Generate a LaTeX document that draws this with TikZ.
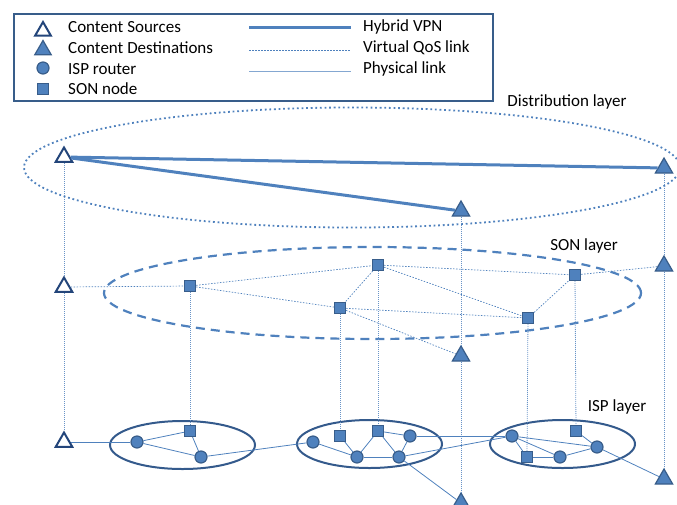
\documentclass[tikz,border=0pt]{standalone}
\usepackage{fontspec}
\setmainfont{Carlito}
\usetikzlibrary{shapes.geometric}
\definecolor{fillblue}{HTML}{4F81BD}
\definecolor{edgeblue}{HTML}{385D8A}
\definecolor{navy}{HTML}{23457A}
\definecolor{lineblue}{HTML}{4F81BD}
\definecolor{ellblue}{HTML}{345A8C}
\tikzset{
  srcnode/.style={regular polygon, regular polygon sides=3, draw=navy, line width=2pt, fill=white, minimum size=19pt, inner sep=0pt},
  dstnode/.style={regular polygon, regular polygon sides=3, draw=edgeblue, line width=1.2pt, fill=fillblue, minimum size=20pt, inner sep=0pt},
  router/.style={circle, draw=edgeblue, line width=1.2pt, fill=fillblue, minimum size=12pt, inner sep=0pt},
  sonnode/.style={rectangle, draw=edgeblue, line width=1.2pt, fill=fillblue, minimum size=11pt, inner sep=0pt},
  vpn/.style={line width=3pt, draw=lineblue},
  qos/.style={line width=0.7pt, draw=lineblue, dash pattern=on 1.5pt off 1.5pt},
  phys/.style={line width=0.8pt, draw=lineblue},
  vert/.style={line width=0.8pt, draw=lineblue!85, dash pattern=on 1pt off 1pt},
  lbl/.style={font=\fontsize{17}{20}\selectfont, inner sep=0pt},
  ispell/.style={line width=2pt, draw=ellblue},
}
\begin{document}
\begin{tikzpicture}[x=1pt,y=-1pt]
\useasboundingbox (0,0) rectangle (677,504);
% legend
\node[draw=edgeblue, line width=1.5pt, minimum width=479pt, minimum height=87pt, anchor=north west, inner sep=0pt] (legend) at (13,13) {};
\node[srcnode, minimum size=18pt] (lsrc) at (43,31) {};
\node[dstnode, minimum size=19pt] (ldst) at (43,50) {};
\node[router] (lrouter) at (43,68) {};
\node[sonnode] (lson) at (43,89) {};
\node[lbl, anchor=west] (tsrc) at (68,27) {Content Sources};
\node[lbl, anchor=west] (tdst) at (68,48) {Content Destinations};
\node[lbl, anchor=west] (trouter) at (68,69) {ISP router};
\node[lbl, anchor=west] (tson) at (68,89) {SON node};
\coordinate (lv1) at (249,27); \coordinate (lv2) at (351,27);
\coordinate (lq1) at (249,50); \coordinate (lq2) at (351,50);
\coordinate (lp1) at (249,71); \coordinate (lp2) at (351,71);
\draw[vpn] (lv1) -- (lv2);
\draw[qos] (lq1) -- (lq2);
\draw[phys, draw=lineblue!70] (lp1) -- (lp2);
\node[lbl, anchor=west] (tvpn) at (363,27) {Hybrid VPN};
\node[lbl, anchor=west] (tqos) at (363,48) {Virtual QoS link};
\node[lbl, anchor=west] (tphys) at (363,69) {Physical link};
% layer labels
\node[lbl] (ldist) at (567,102) {Distribution layer};
\node[lbl] (lsonl) at (584,246) {SON layer};
\node[lbl] (lisp) at (617,407) {ISP layer};
% layer ellipses
\draw[draw=lineblue, line width=1.8pt, dash pattern=on 1.8pt off 2.8pt] (352,167.5) ellipse [x radius=328pt, y radius=60pt];
\draw[draw=lineblue, line width=2.2pt, dash pattern=on 9pt off 6pt] (372.5,293) ellipse [x radius=268.5pt, y radius=46pt];
\draw[ispell] (182.5,445) ellipse [x radius=72.5pt, y radius=24pt];
\draw[ispell] (369.5,444) ellipse [x radius=72.5pt, y radius=24pt];
\draw[ispell] (562.5,444) ellipse [x radius=72.5pt, y radius=24pt];
% sources and destinations
\node[srcnode] (srcD) at (64,157) {};
\node[srcnode] (srcS) at (64,287) {};
\node[srcnode] (srcI) at (64,442) {};
\node[dstnode] (dAD) at (461,211) {};
\node[dstnode] (dAS) at (461,356) {};
\node[dstnode] (dAI) at (461,503) {};
\node[dstnode] (dBD) at (664,168) {};
\node[dstnode] (dBS) at (664,266) {};
\node[dstnode] (dBI) at (664,479) {};
% SON nodes
\node[sonnode] (s1) at (190,286) {};
\node[sonnode] (s2) at (378,265) {};
\node[sonnode] (s3) at (340,308) {};
\node[sonnode] (s4) at (528,318) {};
\node[sonnode] (s5) at (575,275) {};
% ISP nodes
\node[router] (r1a) at (137,442) {};
\node[sonnode] (q1) at (190,431) {};
\node[router] (r1b) at (201,457) {};
\node[router] (r2a) at (313,442) {};
\node[sonnode] (q2a) at (340,436) {};
\node[sonnode] (q2b) at (378,431) {};
\node[router] (r2b) at (410,436) {};
\node[router] (r2c) at (357,457) {};
\node[router] (r2d) at (399,457) {};
\node[router] (r3a) at (512,436) {};
\node[sonnode] (q3a) at (527,457) {};
\node[router] (r3b) at (560,457) {};
\node[sonnode] (q3b) at (576,431) {};
\node[router] (r3c) at (597,447) {};
% hybrid VPN
\draw[vpn] (srcD) -- (dBD);
\draw[vpn] (srcD) -- (dAD);
% vertical mappings
\draw[vert] (srcD) -- (srcS);
\draw[vert] (srcS) -- (srcI);
\draw[vert] (dAD) -- (dAS);
\draw[vert] (dAS) -- (dAI);
\draw[vert] (dBD) -- (dBS);
\draw[vert] (dBS) -- (dBI);
\draw[vert] (s1) -- (q1);
\draw[vert] (s2) -- (q2b);
\draw[vert] (s3) -- (q2a);
\draw[vert] (s4) -- (q3a);
\draw[vert] (s5) -- (q3b);
% virtual QoS links
\draw[qos] (srcS) -- (s1);
\draw[qos] (s1) -- (s2);
\draw[qos] (s1) -- (s3);
\draw[qos] (s2) -- (s3);
\draw[qos] (s2) -- (s4);
\draw[qos] (s2) -- (s5);
\draw[qos] (s3) -- (s4);
\draw[qos] (s3) -- (dAS);
\draw[qos] (s4) -- (s5);
\draw[qos] (s5) -- (dBS);
% physical links
\draw[phys] (srcI) -- (r1a);
\draw[phys] (r1a) -- (q1);
\draw[phys] (r1a) -- (r1b);
\draw[phys] (q1) -- (r1b);
\draw[phys] (r1b) -- (r2a);
\draw[phys] (r2a) -- (r2c);
\draw[phys] (q2a) -- (r2c);
\draw[phys] (q2b) -- (r2c);
\draw[phys] (q2b) -- (r2b);
\draw[phys] (q2b) -- (r2d);
\draw[phys] (r2b) -- (r2d);
\draw[phys] (r2c) -- (r2d);
\draw[phys] (r2b) -- (r3a);
\draw[phys] (r2d) -- (r3a);
\draw[phys] (r2d) -- (dAI);
\draw[phys] (r3a) -- (q3a);
\draw[phys] (r3a) -- (r3b);
\draw[phys] (r3a) -- (r3c);
\draw[phys] (q3a) -- (r3b);
\draw[phys] (r3b) -- (r3c);
\draw[phys] (q3b) -- (r3c);
\draw[phys] (r3c) -- (dBI);
\end{tikzpicture}
\end{document}
